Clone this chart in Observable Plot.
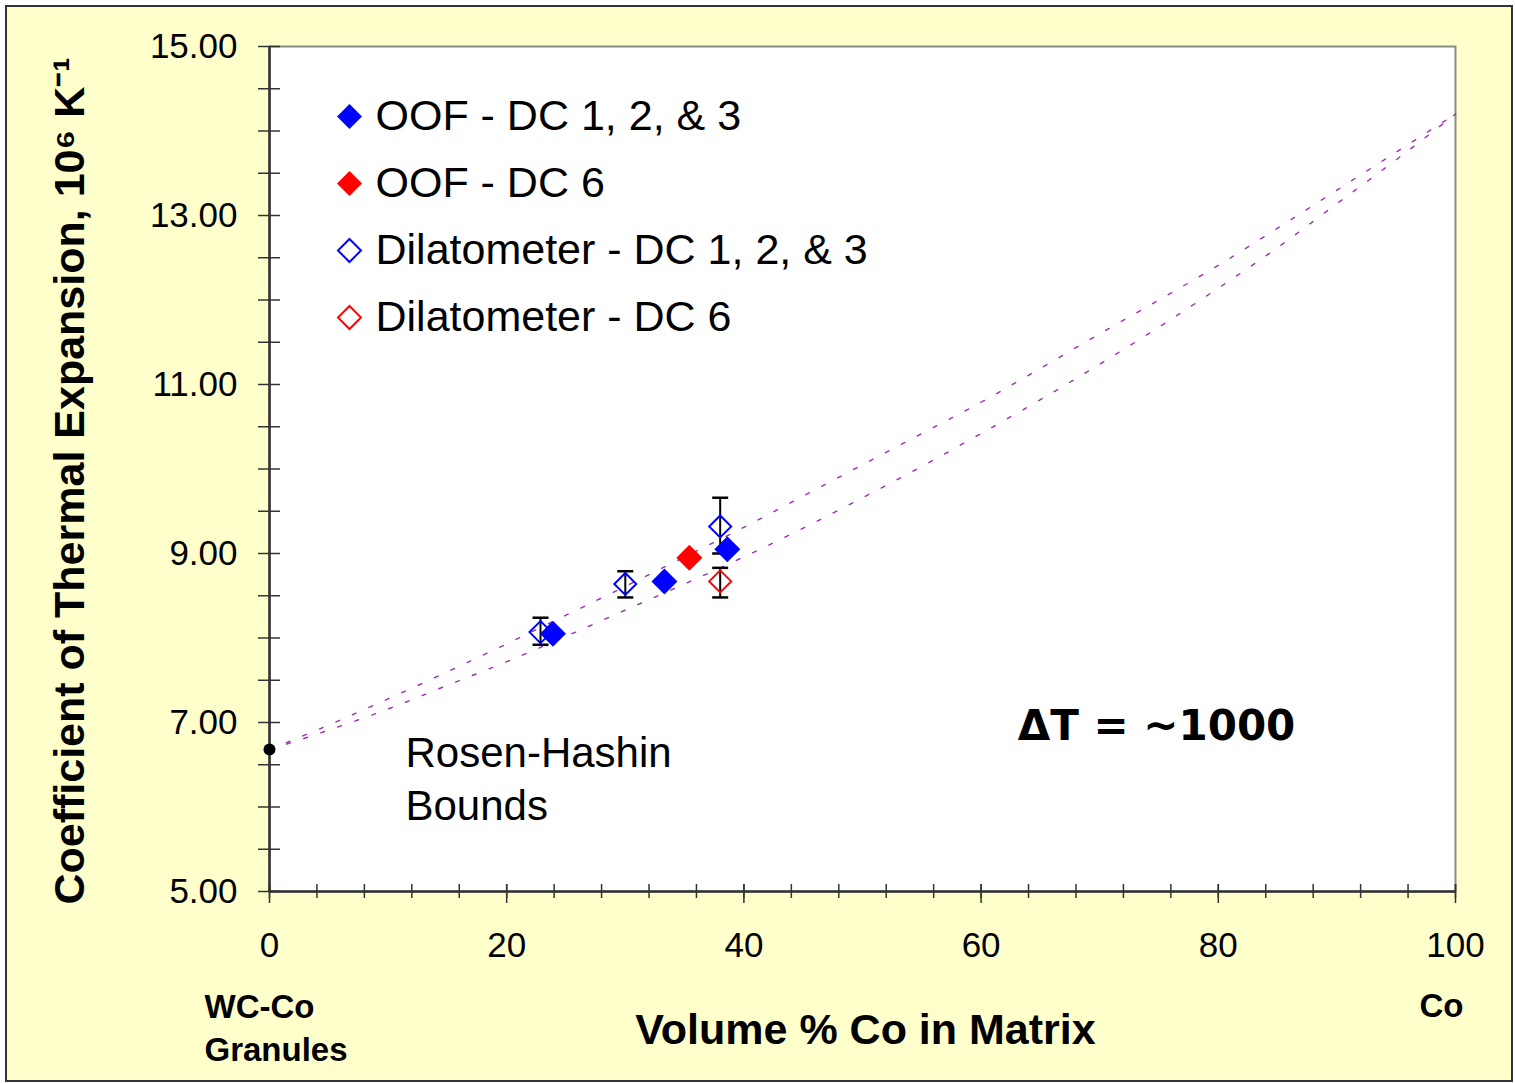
<!DOCTYPE html>
<html>
<head>
<meta charset="utf-8">
<script src="https://cdn.jsdelivr.net/npm/d3@7"></script>
<script src="https://cdn.jsdelivr.net/npm/@observablehq/plot@0.6"></script>
<style>
  html, body { margin: 0; padding: 0; background: #ffffff; }
  #wrap { position: absolute; left: 5px; top: 5px; width: 1504px; height: 1073px;
          border: 2px solid #333; background: #FFFFCC; }
  #wrap svg { display: block; }
</style>
</head>
<body>
<div id="wrap"></div>
<script>
// ---- Data ----
const oofDC123X = [23.9, 33.3, 38.6];
const oofDC123Y = [8.05, 8.67, 9.05];

const oofDC6X = [35.4];
const oofDC6Y = [8.95];

const dilDC123X  = [22.85, 30.0, 38.0];
const dilDC123Y  = [8.07, 8.64, 9.32];
const dilDC123Lo = [7.92, 8.48, 9.00];
const dilDC123Hi = [8.24, 8.79, 9.66];

const dilDC6X  = [38.0];
const dilDC6Y  = [8.67];
const dilDC6Lo = [8.48];
const dilDC6Hi = [8.83];

const wcCoX = [0];
const wcCoY = [6.68];

const boundX     = [0, 5, 10, 15, 20, 25, 30, 35, 40, 45, 50, 55, 60, 65, 70, 75, 80, 85, 90, 95, 100];
const upperBound = [6.68, 6.97, 7.28, 7.60, 7.93, 8.27, 8.61, 8.96, 9.31, 9.68, 10.05, 10.42, 10.79, 11.19, 11.60, 12.00, 12.41, 12.85, 13.30, 13.75, 14.20];
const lowerBound = [6.68, 6.91, 7.16, 7.44, 7.72, 8.02, 8.33, 8.64, 8.96, 9.30, 9.66, 10.03, 10.42, 10.82, 11.24, 11.68, 12.14, 12.62, 13.14, 13.66, 14.20];

const xTickLabels = [0, 20, 40, 60, 80, 100];
const xMinorTicks = d3.range(0, 101, 4);
const yTickLabels = [5, 7, 9, 11, 13, 15];
const yMinorTicks = d3.range(5, 15.01, 0.5);

const legendLabels = ["OOF - DC 1, 2, & 3", "OOF - DC 6", "Dilatometer - DC 1, 2, & 3", "Dilatometer - DC 6"];
const legendColors = ["#0000FF", "#FF0000", "#0000FF", "#FF0000"];
const legendFilled = [true, true, false, false];

// ---- Tables ----
const pts = (xs, ys) => xs.map((x, i) => ({x, y: ys[i]}));
const errs = (xs, ys, lo, hi) => xs.map((x, i) => ({x, y: ys[i], lo: lo[i], hi: hi[i]}));
const oofDC123 = pts(oofDC123X, oofDC123Y);
const oofDC6 = pts(oofDC6X, oofDC6Y);
const dilDC123 = errs(dilDC123X, dilDC123Y, dilDC123Lo, dilDC123Hi);
const dilDC6 = errs(dilDC6X, dilDC6Y, dilDC6Lo, dilDC6Hi);
const allErr = dilDC123.concat(dilDC6);
const upper = pts(boundX, upperBound);
const lower = pts(boundX, lowerBound);
const wcCo = pts(wcCoX, wcCoY);

// ---- Symbols ----
const diamond = {
  draw(ctx, size) {
    const h = Math.sqrt(size / Math.PI);
    ctx.moveTo(0, -h); ctx.lineTo(h, 0); ctx.lineTo(0, h); ctx.lineTo(-h, 0); ctx.closePath();
  }
};
const cap = {
  draw(ctx) { ctx.moveTo(-8, 0); ctx.lineTo(8, 0); }
};

const FONT = "'Liberation Sans', Arial, Helvetica, sans-serif";

const legendMarks = legendLabels.flatMap((label, i) => [
  Plot.dot([label], {
    frameAnchor: "top-left", dx: 80, dy: 70 + 67 * i,
    symbol: diamond, r: legendFilled[i] ? 12.5 : 11.5,
    fill: legendFilled[i] ? legendColors[i] : "none",
    stroke: legendFilled[i] ? "none" : legendColors[i], strokeWidth: 2
  }),
  Plot.text([label], {
    frameAnchor: "top-left", dx: 106, dy: 70 + 67 * i, text: d => d,
    textAnchor: "start", lineAnchor: "middle", fontSize: 43, fontFamily: FONT, fill: "black"
  })
]);

const chart = Plot.plot({
  width: 1504,
  height: 1073,
  marginLeft: 262,
  marginRight: 56,
  marginTop: 39,
  marginBottom: 189,
  x: {domain: [0, 100], label: null},
  y: {domain: [5, 15], label: null},
  style: {background: "#FFFFCC", fontFamily: FONT, fontSize: "35px", color: "black", overflow: "visible"},
  marks: [
    Plot.frame({fill: "white", stroke: "#8a8a8a", strokeWidth: 2}),
    // bounds
    Plot.line(upper, {x: "x", y: "y", stroke: "#9933AA", strokeWidth: 1.4, strokeDasharray: "4,14", curve: "monotone-x"}),
    Plot.line(lower, {x: "x", y: "y", stroke: "#9933AA", strokeWidth: 1.4, strokeDasharray: "4,14", curve: "monotone-x"}),
    // axes lines
    Plot.ruleX([0], {stroke: "#333", strokeWidth: 2.5}),
    Plot.ruleY([5], {stroke: "#333", strokeWidth: 2.5}),
    // y ticks crossing axis
    Plot.axisY({ticks: yMinorTicks, tickSize: 22, dx: 11, tickFormat: () => "", label: null, stroke: "#333", strokeWidth: 1.5}),
    Plot.axisY({ticks: yTickLabels, tickSize: 0, tickPadding: 32, tickFormat: d3.format(".2f"), label: null, fontSize: 35, fill: "black"}),
    // x ticks
    Plot.axisX({ticks: xMinorTicks, tickSize: 14, dy: -7, tickFormat: () => "", label: null, stroke: "#333", strokeWidth: 1.5}),
    Plot.axisX({ticks: xTickLabels, tickSize: 19, dy: -7, tickFormat: () => "", label: null, stroke: "#333", strokeWidth: 1.5}),
    Plot.axisX({ticks: xTickLabels, tickSize: 0, tickPadding: 41, label: null, fontSize: 35, fill: "black"}),
    // error bars
    Plot.ruleX(allErr, {x: "x", y1: "lo", y2: "hi", stroke: "black", strokeWidth: 2}),
    Plot.dot(allErr, {x: "x", y: "lo", symbol: cap, fill: "none", stroke: "black", strokeWidth: 2.5}),
    Plot.dot(allErr, {x: "x", y: "hi", symbol: cap, fill: "none", stroke: "black", strokeWidth: 2.5}),
    // dilatometer (open)
    Plot.dot(dilDC123, {x: "x", y: "y", symbol: diamond, r: 11, fill: "none", stroke: "#0000FF", strokeWidth: 2}),
    Plot.dot(dilDC6, {x: "x", y: "y", symbol: diamond, r: 11, fill: "none", stroke: "#FF0000", strokeWidth: 2}),
    // OOF (filled)
    Plot.dot(oofDC6, {x: "x", y: "y", symbol: diamond, r: 13, fill: "#FF0000"}),
    Plot.dot(oofDC123, {x: "x", y: "y", symbol: diamond, r: 13, fill: "#0000FF"}),
    // WC-Co granule point
    Plot.dot(wcCo, {x: "x", y: "y", r: 6, fill: "black"}),
    // legend
    ...legendMarks,
    // annotations
    Plot.text(["Rosen-Hashin\nBounds"], {
      frameAnchor: "bottom-left", dx: 136, dy: -115, text: d => d, textAnchor: "start",
      lineAnchor: "middle", lineHeight: 1.26, fontSize: 42, fontFamily: FONT, fill: "black"
    }),
    Plot.text(["ΔT = ~1000"], {
      frameAnchor: "bottom-left", dx: 887, dy: -165, text: d => d, textAnchor: "middle",
      lineAnchor: "middle", fontSize: 42, fontWeight: "bold", fontFamily: "'DejaVu Sans', sans-serif", fill: "black"
    }),
    // axis titles
    Plot.text(["Volume % Co in Matrix"], {
      frameAnchor: "bottom", dx: 3, dy: 139, text: d => d, textAnchor: "middle",
      lineAnchor: "middle", fontSize: 43, fontWeight: "bold", fontFamily: FONT, fill: "black"
    }),
    Plot.text(["WC-Co\nGranules"], {
      frameAnchor: "bottom-left", dx: -65, dy: 134, text: d => d, textAnchor: "start",
      lineAnchor: "middle", lineHeight: 1.33, fontSize: 33, fontWeight: "bold", fontFamily: FONT, fill: "black"
    }),
    Plot.text(["Co"], {
      frameAnchor: "bottom-right", dx: 8, dy: 115, text: d => d, textAnchor: "end",
      lineAnchor: "middle", fontSize: 33, fontWeight: "bold", fontFamily: FONT, fill: "black"
    }),
    Plot.text(["Coefficient of Thermal Expansion, 10⁶ K⁻¹"], {
      frameAnchor: "left", dx: -199, dy: 12, rotate: -90, text: d => d, textAnchor: "middle",
      lineAnchor: "middle", fontSize: 43, fontWeight: "bold", fontFamily: FONT, fill: "black"
    })
  ]
});
document.getElementById("wrap").appendChild(chart);
</script>
</body>
</html>
